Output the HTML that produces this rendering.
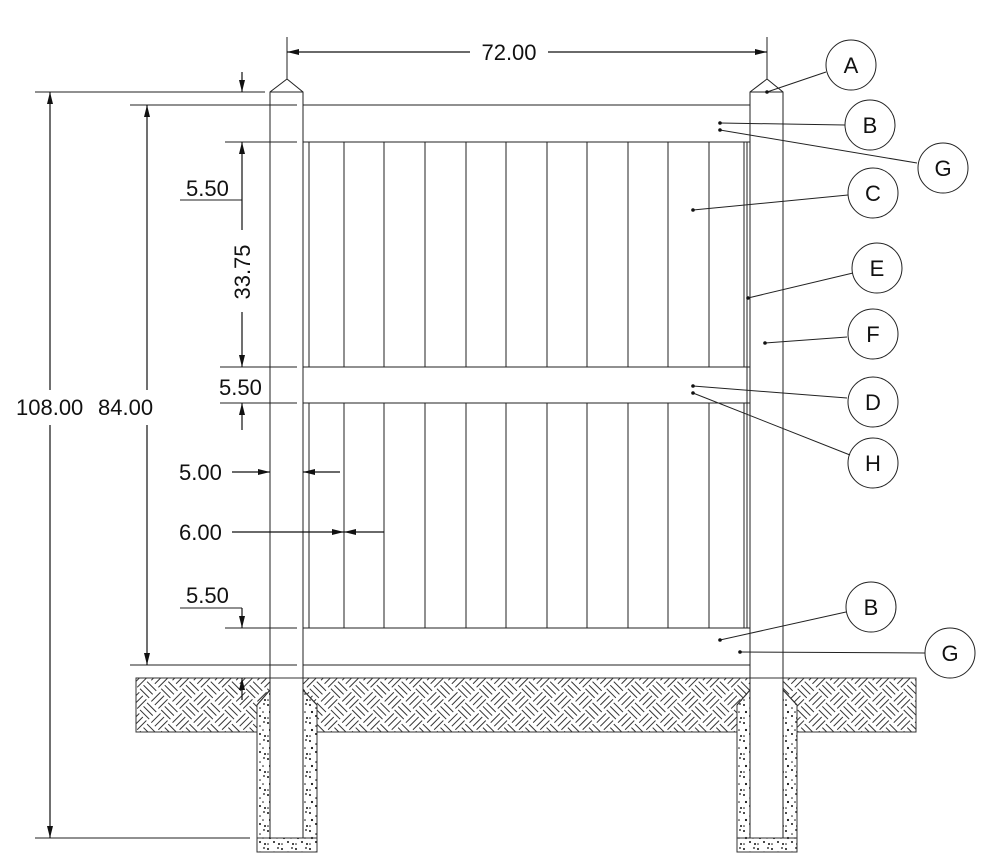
<!DOCTYPE html>
<html><head><meta charset="utf-8"><style>
html,body{margin:0;padding:0;background:#fff;}
svg{display:block;}
text{font-family:"Liberation Sans",sans-serif;font-size:22px;fill:#111;}
</style></head><body>
<svg width="1000" height="863" viewBox="0 0 1000 863" xmlns="http://www.w3.org/2000/svg">
<defs>
<pattern id="hatch" width="30" height="30" patternUnits="userSpaceOnUse" patternTransform="rotate(45)">
<g stroke="#333" stroke-width="1">
<line x1="1" y1="3" x2="14" y2="3"/><line x1="1" y1="8" x2="14" y2="8"/><line x1="1" y1="13" x2="14" y2="13"/>
<line x1="18" y1="1" x2="18" y2="14"/><line x1="23" y1="1" x2="23" y2="14"/><line x1="28" y1="1" x2="28" y2="14"/>
<line x1="3" y1="16" x2="3" y2="29"/><line x1="8" y1="16" x2="8" y2="29"/><line x1="13" y1="16" x2="13" y2="29"/>
<line x1="16" y1="18" x2="29" y2="18"/><line x1="16" y1="23" x2="29" y2="23"/><line x1="16" y1="28" x2="29" y2="28"/>
</g>
</pattern>
<pattern id="conc" width="14" height="18" patternUnits="userSpaceOnUse">
<g fill="#111">
<circle cx="2" cy="3" r="1"/><circle cx="8" cy="6" r="0.8"/><circle cx="12" cy="2" r="0.9"/>
<circle cx="4" cy="10" r="1.1"/><circle cx="11" cy="10" r="0.8"/><circle cx="8" cy="14" r="1"/>
<circle cx="2" cy="16" r="0.8"/><circle cx="13" cy="16" r="1"/>
</g>
</pattern>
<marker id="ar" viewBox="0 0 12 6" refX="12" refY="3" markerWidth="12" markerHeight="6" orient="auto" markerUnits="userSpaceOnUse"><path d="M0,0 L12,3 L0,6 z" fill="#111"/></marker>
</defs>

<path d="M136,678 H916 V732 H797 V705 L783,690 V678 H750 V690 L737,705 V732 H317 V705 L303,690 V678 H270 V690 L257,705 V732 H136 Z" fill="url(#hatch)" stroke="#333" stroke-width="1"/>
<path d="M257,705 L270,690 V838 H303 V690 L317,705 V852 H257 Z" fill="url(#conc)" stroke="#333" stroke-width="1"/>
<path d="M737,705 L750,690 V838 H783 V690 L797,705 V852 H737 Z" fill="url(#conc)" stroke="#333" stroke-width="1"/>
<line x1="257" y1="838" x2="317" y2="838" stroke="#333"/>
<line x1="737" y1="838" x2="797" y2="838" stroke="#333"/>

<g stroke="#222" stroke-width="1" fill="none">
<path d="M270,838 V92 L287,79 L303,92 V838"/>
<path d="M270,92 H303"/>
<path d="M750,838 V92 L767,79 L783,92 V838"/>
<path d="M750,92 H783"/>
<line x1="303" y1="105" x2="750" y2="105"/><line x1="303" y1="142" x2="750" y2="142"/>
<line x1="303" y1="367" x2="750" y2="367"/><line x1="303" y1="403" x2="750" y2="403"/>
<line x1="303" y1="628" x2="750" y2="628"/><line x1="303" y1="665" x2="750" y2="665"/>
<g>
<line x1="309" y1="142" x2="309" y2="367"/><line x1="309" y1="403" x2="309" y2="628"/>
<line x1="344" y1="142" x2="344" y2="367"/><line x1="344" y1="403" x2="344" y2="628"/>
<line x1="384" y1="142" x2="384" y2="367"/><line x1="384" y1="403" x2="384" y2="628"/>
<line x1="425" y1="142" x2="425" y2="367"/><line x1="425" y1="403" x2="425" y2="628"/>
<line x1="466" y1="142" x2="466" y2="367"/><line x1="466" y1="403" x2="466" y2="628"/>
<line x1="506" y1="142" x2="506" y2="367"/><line x1="506" y1="403" x2="506" y2="628"/>
<line x1="547" y1="142" x2="547" y2="367"/><line x1="547" y1="403" x2="547" y2="628"/>
<line x1="587" y1="142" x2="587" y2="367"/><line x1="587" y1="403" x2="587" y2="628"/>
<line x1="628" y1="142" x2="628" y2="367"/><line x1="628" y1="403" x2="628" y2="628"/>
<line x1="668" y1="142" x2="668" y2="367"/><line x1="668" y1="403" x2="668" y2="628"/>
<line x1="709" y1="142" x2="709" y2="367"/><line x1="709" y1="403" x2="709" y2="628"/>
<line x1="744" y1="142" x2="744" y2="367"/><line x1="744" y1="403" x2="744" y2="628"/>
<line x1="747" y1="142" x2="747" y2="628"/>
</g>
<line x1="287" y1="37" x2="287" y2="79"/><line x1="767" y1="37" x2="767" y2="79"/>
<line x1="35" y1="92" x2="265" y2="92"/>
<line x1="130" y1="105" x2="297" y2="105"/>
<line x1="225" y1="142" x2="297" y2="142"/>
<line x1="220" y1="367" x2="297" y2="367"/>
<line x1="220" y1="403" x2="297" y2="403"/>
<line x1="225" y1="628" x2="297" y2="628"/>
<line x1="130" y1="665" x2="297" y2="665"/>
<line x1="35" y1="838" x2="250" y2="838"/>
<line x1="180" y1="200" x2="242" y2="200"/>
<line x1="180" y1="608" x2="242" y2="608"/>
</g>

<g stroke="#111" stroke-width="1.2" fill="none">
<line x1="470" y1="52" x2="287" y2="52" marker-end="url(#ar)"/>
<line x1="548" y1="52" x2="767" y2="52" marker-end="url(#ar)"/>
<line x1="50" y1="390" x2="50" y2="92" marker-end="url(#ar)"/>
<line x1="50" y1="425" x2="50" y2="838" marker-end="url(#ar)"/>
<line x1="147" y1="390" x2="147" y2="105" marker-end="url(#ar)"/>
<line x1="147" y1="425" x2="147" y2="665" marker-end="url(#ar)"/>
<line x1="242" y1="72" x2="242" y2="92" marker-end="url(#ar)"/>
<line x1="242" y1="200" x2="242" y2="142" marker-end="url(#ar)"/>
<line x1="242" y1="200" x2="242" y2="230"/>
<line x1="242" y1="312" x2="242" y2="367" marker-end="url(#ar)"/>
<line x1="242" y1="430" x2="242" y2="403" marker-end="url(#ar)"/>
<line x1="232" y1="472" x2="270" y2="472" marker-end="url(#ar)"/>
<line x1="340" y1="472" x2="303" y2="472" marker-end="url(#ar)"/>
<line x1="232" y1="532" x2="344" y2="532" marker-end="url(#ar)"/>
<line x1="384" y1="532" x2="344" y2="532" marker-end="url(#ar)"/>
<line x1="242" y1="608" x2="242" y2="628" marker-end="url(#ar)"/>
<line x1="242" y1="700" x2="242" y2="678" marker-end="url(#ar)"/>
</g>

<text x="509" y="60" text-anchor="middle">72.00</text>
<text x="16" y="415">108.00</text>
<text x="98" y="415">84.00</text>
<text x="186" y="196">5.50</text>
<text x="219" y="395">5.50</text>
<text x="179" y="480">5.00</text>
<text x="179" y="540">6.00</text>
<text x="186" y="603">5.50</text>
<text transform="translate(250,272) rotate(-90)" text-anchor="middle">33.75</text>

<g stroke="#222" stroke-width="1" fill="none">
<line x1="767" y1="92" x2="826" y2="72"/>
<line x1="720" y1="123" x2="845" y2="125"/>
<line x1="720" y1="130" x2="917" y2="163"/>
<line x1="693" y1="210" x2="848" y2="195"/>
<line x1="748" y1="298" x2="853" y2="273"/>
<line x1="765" y1="343" x2="847" y2="337"/>
<line x1="693" y1="386" x2="847" y2="398"/>
<line x1="693" y1="393" x2="850" y2="455"/>
<line x1="720" y1="640" x2="846" y2="612"/>
<line x1="740" y1="652" x2="925" y2="653"/>
<circle cx="851" cy="65" r="25"/>
<circle cx="870" cy="125" r="25"/>
<circle cx="943" cy="168" r="25"/>
<circle cx="873" cy="193" r="25"/>
<circle cx="877" cy="268" r="25"/>
<circle cx="873" cy="334" r="25"/>
<circle cx="873" cy="402" r="25"/>
<circle cx="873" cy="463" r="25"/>
<circle cx="871" cy="607" r="25"/>
<circle cx="950" cy="653" r="25"/>
</g>
<g fill="#111">
<circle cx="767" cy="92" r="1.8"/><circle cx="720" cy="123" r="1.8"/><circle cx="720" cy="130" r="1.8"/>
<circle cx="693" cy="210" r="1.8"/><circle cx="748" cy="298" r="1.8"/><circle cx="765" cy="343" r="1.8"/>
<circle cx="693" cy="386" r="1.8"/><circle cx="693" cy="393" r="1.8"/><circle cx="720" cy="640" r="1.8"/>
<circle cx="740" cy="652" r="1.8"/>
</g>
<g text-anchor="middle">
<text x="851" y="73">A</text>
<text x="870" y="133">B</text>
<text x="943" y="176">G</text>
<text x="873" y="201">C</text>
<text x="877" y="276">E</text>
<text x="873" y="342">F</text>
<text x="873" y="410">D</text>
<text x="873" y="471">H</text>
<text x="871" y="615">B</text>
<text x="950" y="661">G</text>
</g>
</svg>
</body></html>
